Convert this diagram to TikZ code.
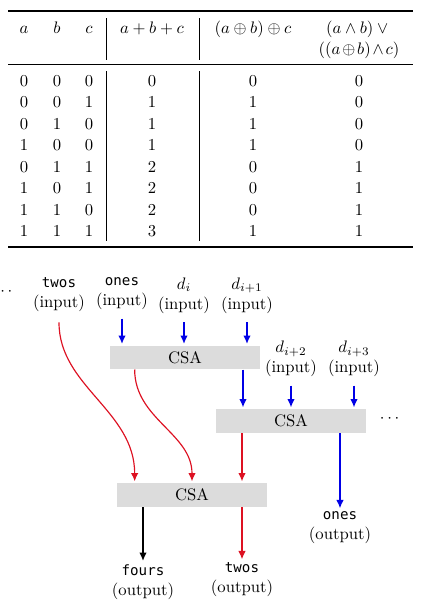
\documentclass[tikz,border=0pt]{standalone}
\usepackage{amsmath}
\usepackage{fontspec}
\setmonofont[Scale=0.85]{DejaVu Sans Mono}
\usepackage{tikz}
\usetikzlibrary{arrows.meta,calc,positioning}
\definecolor{cred}{HTML}{DD1122}
\definecolor{cblue}{HTML}{0000E6}
\definecolor{cbox}{HTML}{DCDCDC}
\tikzset{
  >={Latex[length=5pt,width=4.5pt]},
  tcell/.style={anchor=base, inner sep=0pt},
  trule/.style={black, line width=1.1pt},
  tmid/.style={black, line width=0.65pt},
  tsep/.style={black, line width=0.5pt},
  csa/.style={rectangle, fill=cbox, minimum width=90pt, minimum height=14pt,
              inner sep=0pt},
  io/.style={align=center, inner sep=1pt},
  bluearr/.style={->, cblue, line width=0.75pt, shorten <=4pt, shorten >=1pt},
  redarr/.style={->, cred, line width=0.7pt, shorten >=1pt},
  blkarr/.style={->, black, line width=0.75pt, shorten >=1pt},
}

\begin{document}
\begin{tikzpicture}[x=0.6pt,y=-0.6pt]
  \useasboundingbox (0,0) rectangle (428,614);

  % tabelle: regeln
  \draw[trule] (8,11) -- (413,11);
  \draw[tmid]  (8,64.3) -- (413,64.3);
  \draw[trule] (8,246.7) -- (413,246.7);
  \foreach \sx in {106,199} {
    \draw[tsep] (\sx,18) -- (\sx,60);
    \draw[tsep] (\sx,71) -- (\sx,241);
  }

  % kopfzeile
  \node[tcell] (ha) at (24,33)  {$a$};
  \node[tcell] (hb) at (57,33)  {$b$};
  \node[tcell] (hc) at (89,33)  {$c$};
  \node[tcell] (hs) at (152,33) {$a+b+c$};
  \node[tcell] (hx) at (253,33) {$(a\oplus b)\oplus c$};
  \node[tcell] (hm) at (359,33) {$(a\wedge b)\vee{}$};
  \node[tcell] (hn) at (359,54.5)
       {\medmuskip=2mu $((a\oplus b)\wedge c)$};

  % zeilen
  \foreach \va/\vb/\vc/\vs/\vx/\vm [count=\r] in
      {0/0/0/0/0/0, 0/0/1/1/1/0, 0/1/0/1/1/0, 1/0/0/1/1/0,
       0/1/1/2/0/1, 1/0/1/2/0/1, 1/1/0/2/0/1, 1/1/1/3/1/1} {
    \pgfmathsetmacro{\ry}{86+21.5*(\r-1)}
    \node[tcell] (a\r) at (24,\ry)  {$\va$};
    \node[tcell] (b\r) at (57,\ry)  {$\vb$};
    \node[tcell] (c\r) at (89,\ry)  {$\vc$};
    \node[tcell] (s\r) at (152,\ry) {$\vs$};
    \node[tcell] (x\r) at (253,\ry) {$\vx$};
    \node[tcell] (m\r) at (359,\ry) {$\vm$};
  }

  % eingaenge
  \node[io] (dotsL)  at (4,292)     {$\cdots$};
  \node[io] (twosin) at (59,295)    {\texttt{twos}\\(input)};
  \node[io] (onesin) at (122,294)   {\texttt{ones}\\(input)};
  \node[io] (din)    at (184,295.5) {$d_i$\\(input)};
  \node[io] (dinA)   at (247,295.5) {$d_{i+1}$\\(input)};
  \node[io] (dinB)   at (291,359)   {$d_{i+2}$\\(input)};
  \node[io] (dinC)   at (354,359)   {$d_{i+3}$\\(input)};

  % addierer
  \node[csa] (csaA) at (185,357.5) {CSA};
  \node[csa] (csaB) at (291,421)   {CSA};
  \node[csa] (csaC) at (192,495)   {CSA};
  \node[io]  (dotsR) at (391,419)  {$\cdots$};

  % ausgaenge
  \node[io] (foursout) at (143,582) {\texttt{fours}\\(output)};
  \node[io] (twosout)  at (242,580) {\texttt{twos}\\(output)};
  \node[io] (onesout)  at (340,528) {\texttt{ones}\\(output)};

  % verbindungen
  \draw[bluearr] (onesin.south) -- (onesin.south |- csaA.north);
  \draw[bluearr] (din.south)    -- (din.south |- csaA.north);
  \draw[bluearr] (dinA.south)   -- (dinA.south |- csaA.north);
  \draw[bluearr, shorten <=0pt] ([xshift=-2.4pt]csaA.south -| dinA.south)
                 -- ([xshift=-2.4pt]csaB.north -| dinA.south);
  \draw[bluearr] (dinB.south) -- (dinB.south |- csaB.north);
  \draw[bluearr] (dinC.south) -- (dinC.south |- csaB.north);
  \draw[bluearr, shorten <=0pt] (csaB.south -| onesout.north) -- (onesout.north);

  \draw[redarr, shorten <=5pt] (twosin.south) to[out=-90,in=90]
       ($(csaC.north west)+(18,0)$);
  \draw[redarr] ($(csaA.south west)+(25,0)$) to[out=-90,in=90] (csaC.north);
  \draw[redarr] (csaB.south -| twosout.north) -- (csaC.north -| twosout.north);
  \draw[redarr] (csaC.south -| twosout.north) -- (twosout.north);
  \draw[blkarr] (csaC.south -| foursout.north) -- (foursout.north);

\end{tikzpicture}
\end{document}
